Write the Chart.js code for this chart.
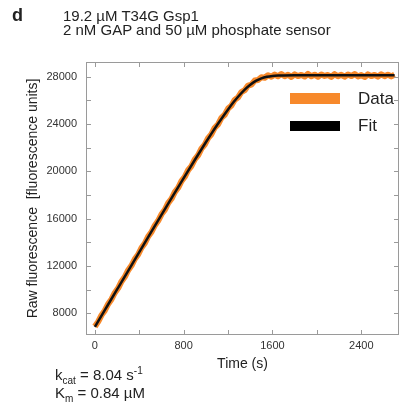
<!DOCTYPE html>
<html>
<head>
<meta charset="utf-8">
<script src="https://cdn.jsdelivr.net/npm/chart.js@4.4.0/dist/chart.umd.min.js"></script>
<style>
  body { margin: 0; background: #fff; font-family: "Liberation Sans", Arial, sans-serif; color: #222; }
  #wrap { position: relative; width: 401px; height: 409px; overflow: hidden; }
  canvas { position: absolute; left: 0; top: 0; }
  .t { position: absolute; white-space: nowrap; line-height: 1; }
  .t sub, .t sup { font-size: 10px; line-height: 0; }
  .swatch { position: absolute; width: 50px; }
</style>
</head>
<body>
<div id="wrap">
  <canvas id="progressCurve" width="401" height="409"></canvas>
  <div class="t" style="left:12px;top:6px;font-size:18px;font-weight:bold;">d</div>
  <div class="t" style="left:63px;top:8px;font-size:15px;">19.2 µM T34G Gsp1</div>
  <div class="t" style="left:63px;top:22px;font-size:15px;">2 nM GAP and 50 µM phosphate sensor</div>

  <div class="swatch" style="left:290px;top:93px;height:11px;background:#f7892b;"></div>
  <div class="t" style="left:358px;top:90px;font-size:17px;">Data</div>
  <div class="swatch" style="left:290px;top:121px;height:10px;background:#000;"></div>
  <div class="t" style="left:358px;top:117px;font-size:17px;">Fit</div>

  <div class="t" style="left:55px;top:367px;font-size:15px;">k<sub>cat</sub> = 8.04 s<sup>-1</sup></div>
  <div class="t" style="left:55px;top:385px;font-size:15px;">K<sub>m</sub> = 0.84 µM</div>
</div>
<script>
// raw trace (time in s, raw fluorescence)
var dataTime = [0, 30, 60, 90, 120, 150, 180, 210, 240, 270, 300, 330, 360, 390, 420, 450, 480, 510, 540, 570,
  600, 630, 660, 690, 720, 750, 780, 810, 840, 870, 900, 930, 960, 990, 1020, 1050, 1080, 1110, 1140, 1170,
  1200, 1230, 1260, 1290, 1320, 1350, 1380, 1410, 1440, 1470, 1500, 1530, 1560, 1590, 1620, 1650, 1680, 1710, 1740, 1770,
  1800, 1830, 1860, 1890, 1920, 1950, 1980, 2010, 2040, 2070, 2100, 2130, 2160, 2190, 2220, 2250, 2280, 2310, 2340, 2370,
  2400, 2430, 2460, 2490, 2520, 2550, 2580, 2610, 2640, 2670, 2700];
var dataValue = [6880, 7290, 7840, 8240, 8790, 9190, 9740, 10130, 10690, 11080, 11640, 12030, 12590, 12970, 13540, 13920, 14490, 14870, 15430, 15820,
  16370, 16740, 17310, 17680, 18240, 18610, 19170, 19540, 20100, 20450, 21020, 21360, 21920, 22260, 22810, 23140, 23690, 23980, 24520, 24790,
  25310, 25560, 26050, 26260, 26710, 26870, 27260, 27340, 27680, 27720, 27960, 27920, 28130, 28010, 28190, 28040, 28230, 28050, 28170, 27990,
  28210, 28060, 28160, 28020, 28240, 28050, 28180, 28000, 28200, 28070, 28150, 27990, 28220, 28040, 28170, 28010, 28190, 28060, 28230, 28030,
  28150, 27980, 28200, 28060, 28160, 28010, 28210, 28050, 28180, 28030, 28170];

// fitted curve
var fitTime = [0, 100, 200, 300, 400, 500, 600, 700, 800, 900, 1000, 1050, 1100, 1150, 1200, 1250, 1300, 1350,
  1400, 1450, 1500, 1550, 1600, 1650, 1700, 1800, 2000, 2400, 2700];
var fitValue = [6850, 8430, 10010, 11590, 13170, 14750, 16320, 17880, 19430, 20960, 22460, 23190, 23900, 24580,
  25240, 25860, 26420, 26920, 27330, 27650, 27870, 28000, 28070, 28100, 28110, 28120, 28120, 28120, 28120];

var xTickValues = [0, 400, 800, 1200, 1600, 2000, 2400];
var xTickLabels = ['0', '', '800', '', '1600', '', '2400'];
var yTickValues = [8000, 10000, 12000, 14000, 16000, 18000, 20000, 22000, 24000, 26000, 28000];
var yTickLabels = ['8000', '', '12000', '', '16000', '', '20000', '', '24000', '', '28000'];

var dataPoints = [];
for (var i in dataTime) {
  dataPoints.push({x: dataTime[i], y: dataValue[i]});
}
var fitPoints = [];
for (var j in fitTime) {
  fitPoints.push({x: fitTime[j], y: fitValue[j]});
}

// box round the plot with inward tick marks on all four sides
var frameTicks = {
  id: 'frameTicks',
  afterDatasetsDraw: function(chart) {
    var ctx = chart.ctx;
    var a = chart.chartArea;
    var x = chart.scales.x, y = chart.scales.y;
    ctx.save();
    ctx.strokeStyle = '#9a9a9a';
    ctx.lineWidth = 1;
    ctx.strokeRect(a.left + 0.5, a.top + 0.5, a.right - a.left - 1, a.bottom - a.top - 1);
    ctx.beginPath();
    xTickValues.forEach(function(v) {
      var px = Math.round(x.getPixelForValue(v)) + 0.5;
      ctx.moveTo(px, a.bottom); ctx.lineTo(px, a.bottom - 5);
      ctx.moveTo(px, a.top); ctx.lineTo(px, a.top + 5);
    });
    yTickValues.forEach(function(v) {
      var py = Math.round(y.getPixelForValue(v)) + 0.5;
      ctx.moveTo(a.left, py); ctx.lineTo(a.left + 5, py);
      ctx.moveTo(a.right, py); ctx.lineTo(a.right - 5, py);
    });
    ctx.stroke();
    ctx.restore();
  }
};

var ctx = document.getElementById('progressCurve');
var progressCurve = new Chart(ctx, {
  type: 'line',
  data: {
    datasets: [{
      label: 'Data',
      data: dataPoints,
      borderColor: '#f7892b',
      borderWidth: 6,
      borderJoinStyle: 'round',
      pointRadius: 0,
      order: 2
    }, {
      label: 'Fit',
      data: fitPoints,
      borderColor: '#111',
      borderWidth: 2.5,
      cubicInterpolationMode: 'monotone',
      pointRadius: 0,
      order: 1
    }]
  },
  options: {
    responsive: false,
    animation: false,
    devicePixelRatio: 1,
    layout: { padding: { top: 62, right: 2, left: 0, bottom: 0 } },
    plugins: { legend: { display: false }, tooltip: { enabled: false } },
    scales: {
      x: {
        type: 'linear',
        min: -80,
        max: 2740,
        afterBuildTicks: function(scale) {
          scale.ticks = xTickValues.map(function(v) { return {value: v}; });
        },
        afterFit: function(scale) { scale.height = 74; },
        ticks: {
          autoSkip: false,
          maxRotation: 0,
          padding: 4,
          color: '#333',
          font: { family: 'Liberation Sans', size: 11 },
          callback: function(v, idx) { return xTickLabels[idx]; }
        },
        grid: { drawOnChartArea: false, drawTicks: false },
        border: { display: false },
        title: {
          display: true,
          text: 'Time (s)',
          color: '#222',
          font: { family: 'Liberation Sans', size: 14 },
          padding: { top: 0, bottom: 36 }
        }
      },
      y: {
        type: 'linear',
        min: 6160,
        max: 29250,
        afterBuildTicks: function(scale) {
          scale.ticks = yTickValues.map(function(v) { return {value: v}; });
        },
        afterFit: function(scale) { scale.width = 86; },
        ticks: {
          autoSkip: false,
          padding: 9,
          color: '#333',
          font: { family: 'Liberation Sans', size: 11 },
          callback: function(v, idx) { return yTickLabels[idx]; }
        },
        grid: { drawOnChartArea: false, drawTicks: false },
        border: { display: false },
        title: {
          display: true,
          text: 'Raw fluorescence  [fluorescence units]',
          color: '#222',
          font: { family: 'Liberation Sans', size: 14 },
          padding: { top: 25, bottom: 0 }
        }
      }
    }
  },
  plugins: [frameTicks]
});
</script>
</body>
</html>
